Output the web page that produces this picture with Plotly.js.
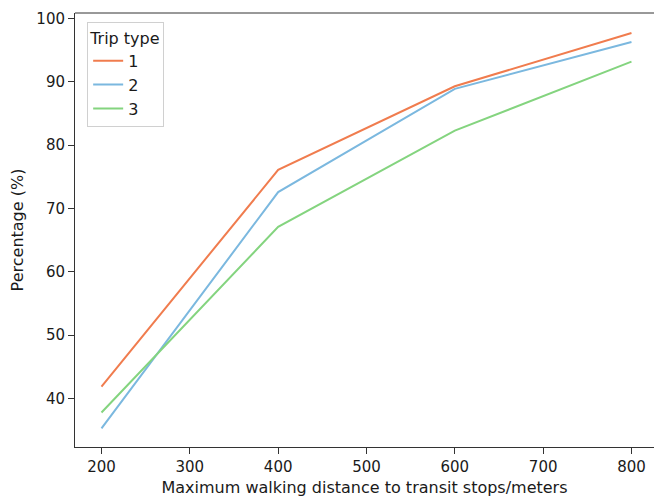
<!DOCTYPE html>
<html>
<head>
<meta charset="utf-8">
<script src="https://cdn.plot.ly/plotly-3.0.1.min.js"></script>
<style>html,body{margin:0;padding:0;background:#fff;overflow:hidden;}#chart{width:654px;height:497px;}</style>
</head>
<body>
<div id="chart"></div>
<script>
var distances = [200, 400, 600, 800];
var tripType1 = [41.9, 76.1, 89.3, 97.7];
var tripType2 = [35.3, 72.6, 88.9, 96.3];
var tripType3 = [37.8, 67.1, 82.3, 93.2];
var seriesNames = ['1', '2', '3'];
var xTicks = [200, 300, 400, 500, 600, 700, 800];
var yTicks = [40, 50, 60, 70, 80, 90, 100];

var colors = ['#f07c4e', '#7bb8df', '#84d47f'];
var series = [tripType1, tripType2, tripType3];
var traces = series.map(function (s, i) {
  return {
    x: distances, y: s, type: 'scatter', mode: 'lines', name: seriesNames[i],
    line: {color: colors[i], width: 2}
  };
});

var fontFam = 'DejaVu Sans, sans-serif';
var txt = '#1a1a1a';
var layout = {
  width: 654, height: 497,
  margin: {l: 75, r: 0, t: 13, b: 50, pad: 0},
  paper_bgcolor: '#fff', plot_bgcolor: '#fff',
  font: {family: fontFam, size: 15, color: txt},
  showlegend: true,
  legend: {
    x: 0.021, y: 0.979, xanchor: 'left', yanchor: 'top',
    bgcolor: 'rgba(255,255,255,0.9)', bordercolor: '#d0d0d0', borderwidth: 1,
    title: {text: 'Trip type', font: {family: fontFam, size: 16, color: txt}},
    font: {family: fontFam, size: 16, color: txt},
    tracegroupgap: 0
  },
  shapes: [{
    type: 'line', xref: 'paper', yref: 'paper', x0: 0, x1: 1, y0: 1, y1: 1,
    line: {color: '#333', width: 1}
  }],
  xaxis: {
    range: [170, 825.5], tickvals: xTicks, ticktext: xTicks.map(String),
    showgrid: false, zeroline: false, showline: true, linecolor: '#333', linewidth: 1,
    mirror: false, ticks: 'outside', ticklen: 6, tickcolor: '#333',
    tickfont: {family: fontFam, size: 15, color: txt},
    title: {text: 'Maximum walking distance to transit stops/meters', font: {family: fontFam, size: 16, color: txt}, standoff: 9},
    automargin: false
  },
  yaxis: {
    range: [32.35, 100.87], tickvals: yTicks, ticktext: yTicks.map(String),
    showgrid: false, zeroline: false, showline: true, linecolor: '#333', linewidth: 1,
    mirror: false, ticks: 'outside', ticklen: 6, tickcolor: '#333',
    tickfont: {family: fontFam, size: 15, color: txt},
    title: {text: 'Percentage (%)', font: {family: fontFam, size: 16, color: txt}, standoff: 8},
    automargin: false
  }
};
Plotly.newPlot('chart', traces, layout, {displayModeBar: false, staticPlot: true});
</script>
</body>
</html>
